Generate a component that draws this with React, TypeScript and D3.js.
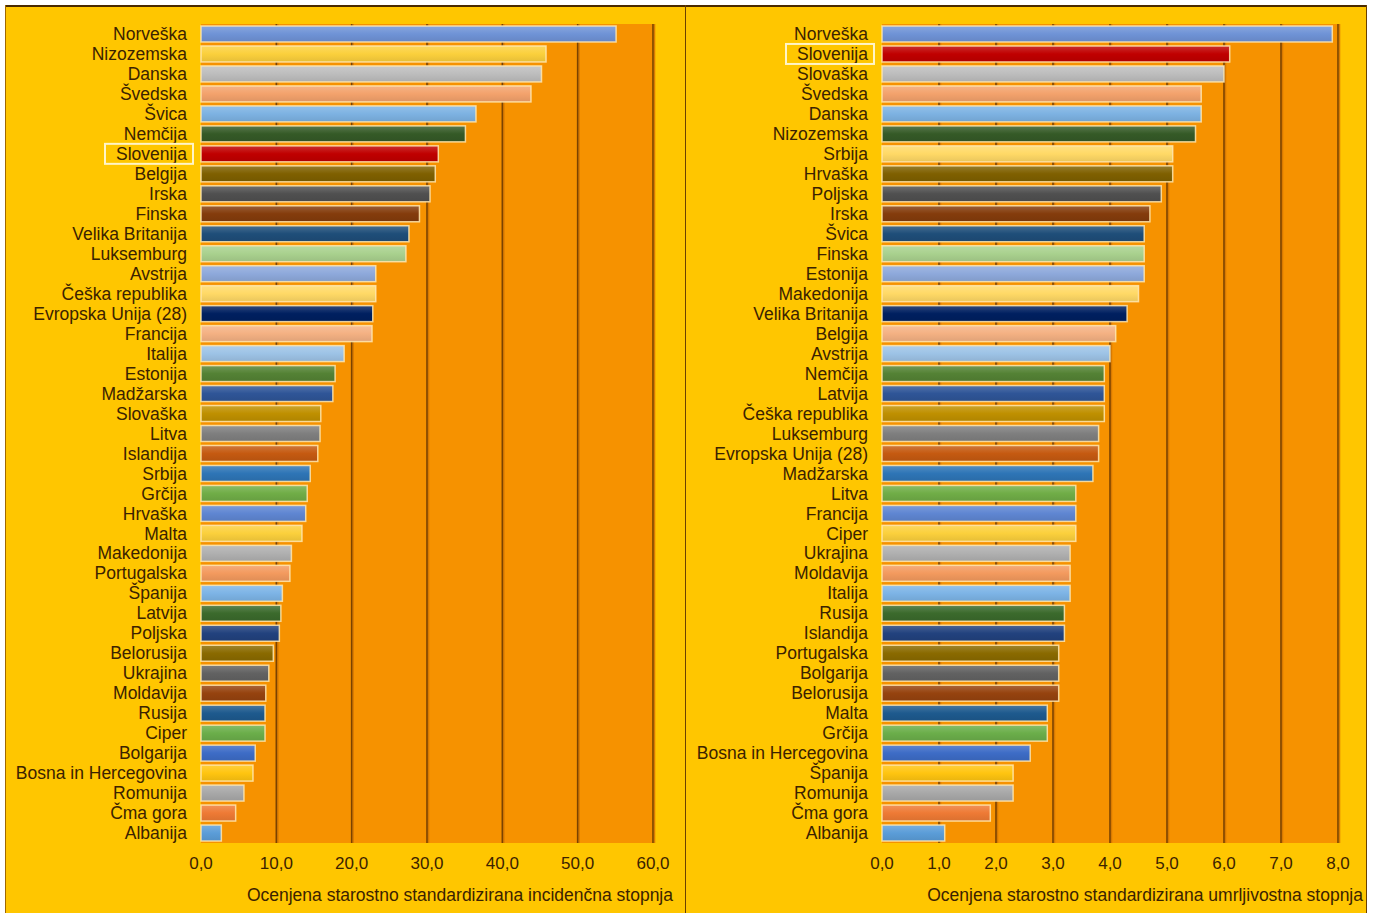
import React from "react";
import * as d3 from "d3";

// incidenca (levo)
const incCountries = [
  "Norveška", "Nizozemska", "Danska", "Švedska", "Švica", "Nemčija", "Slovenija",
  "Belgija", "Irska", "Finska", "Velika Britanija", "Luksemburg", "Avstrija",
  "Češka republika", "Evropska Unija (28)", "Francija", "Italija", "Estonija",
  "Madžarska", "Slovaška", "Litva", "Islandija", "Srbija", "Grčija", "Hrvaška",
  "Malta", "Makedonija", "Portugalska", "Španija", "Latvija", "Poljska",
  "Belorusija", "Ukrajina", "Moldavija", "Rusija", "Ciper", "Bolgarija",
  "Bosna in Hercegovina", "Romunija", "Čma gora", "Albanija",
];
const incValues = [
  55.1, 45.8, 45.2, 43.8, 36.5, 35.1, 31.5, 31.1, 30.4, 29.0, 27.6, 27.2, 23.2,
  23.2, 22.8, 22.7, 19.0, 17.8, 17.5, 15.9, 15.8, 15.5, 14.5, 14.1, 13.9, 13.4,
  12.0, 11.8, 10.8, 10.6, 10.4, 9.6, 9.0, 8.6, 8.5, 8.5, 7.2, 6.9, 5.7, 4.6, 2.7,
];
const incTicks = [0, 10, 20, 30, 40, 50, 60];

// umrljivost (desno)
const mortCountries = [
  "Norveška", "Slovenija", "Slovaška", "Švedska", "Danska", "Nizozemska", "Srbija",
  "Hrvaška", "Poljska", "Irska", "Švica", "Finska", "Estonija", "Makedonija",
  "Velika Britanija", "Belgija", "Avstrija", "Nemčija", "Latvija",
  "Češka republika", "Luksemburg", "Evropska Unija (28)", "Madžarska", "Litva",
  "Francija", "Ciper", "Ukrajina", "Moldavija", "Italija", "Rusija", "Islandija",
  "Portugalska", "Bolgarija", "Belorusija", "Malta", "Grčija",
  "Bosna in Hercegovina", "Španija", "Romunija", "Čma gora", "Albanija",
];
const mortValues = [
  7.9, 6.1, 6.0, 5.6, 5.6, 5.5, 5.1, 5.1, 4.9, 4.7, 4.6, 4.6, 4.6, 4.5, 4.3, 4.1,
  4.0, 3.9, 3.9, 3.9, 3.8, 3.8, 3.7, 3.4, 3.4, 3.4, 3.3, 3.3, 3.3, 3.2, 3.2, 3.1,
  3.1, 3.1, 2.9, 2.9, 2.6, 2.3, 2.3, 1.9, 1.1,
];
const mortTicks = [0, 1, 2, 3, 4, 5, 6, 7, 8];

// barve po položaju stolpca
const palette = [
  "#6f93d6", "#fbd03c", "#bdbdbd", "#f3a26c", "#7db2e2", "#355a27", "#ffd966",
  "#7f6000", "#505050", "#843c0c", "#1f4e79", "#a9d18e", "#8ea9db", "#ffd966",
  "#002060", "#f4b183", "#9dc3e6", "#548235", "#2f5597", "#bf9000", "#7f7f7f",
  "#c55a11", "#2e75b6", "#70ad47", "#5f86d2", "#fbd03c", "#b0b0b0", "#f39a5e",
  "#7db4e6", "#3b6a2c", "#22427e", "#8a6a00", "#626262", "#96430f", "#1e5a8e",
  "#6bae4a", "#3d6cc6", "#ffc510", "#a8a8a8", "#ee7a35", "#5b9dd8",
];
const highlight = "Slovenija";
const highlightColor = "#c00000";

const FONT = "'Liberation Sans', Arial, sans-serif";
const TEXT = "#3b2200";
const PANEL_BG = "#ffc600";
const PLOT_BG = "#f69200";
const GRID = "#7a4200";

const top = 24;
const bottom = 843;

const fmt = (v) => d3.format(".1f")(v).replace(".", ",");

const Panel = ({ id, x0, x1, plotLeft, plotRight, countries, values, ticks, title, titleRight }) => {
  const x = d3.scaleLinear().domain([ticks[0], ticks[ticks.length - 1]]).range([plotLeft, plotRight]);
  const y = d3.scaleBand().domain(countries).range([top, bottom]).paddingInner(0.2).paddingOuter(0.1);
  const labelX = plotLeft - 14;

  return (
    <g>
      <rect x={x0} y={5} width={x1 - x0} height={908} fill={PANEL_BG} />
      <rect x={plotLeft} y={top} width={plotRight - plotLeft} height={bottom - top} fill={PLOT_BG} />
      {ticks.slice(1).map((t) => (
        <g key={t}>
          <line x1={x(t) + 1.5} x2={x(t) + 1.5} y1={top} y2={bottom} stroke="#d97a00" strokeWidth={1.5} />
          <line x1={x(t)} x2={x(t)} y1={top} y2={bottom} stroke={GRID} strokeWidth={1.6} />
        </g>
      ))}
      <defs>
        {countries.map((c, i) => {
          const col = c === highlight ? highlightColor : palette[i % palette.length];
          const light = d3.interpolateRgb(col, "#ffffff")(0.18);
          const dark = d3.color(col).darker(0.25).formatHex();
          return (
            <linearGradient key={c} id={`${id}-g${i}`} x1="0" y1="0" x2="0" y2="1">
              <stop offset="0%" stopColor={light} />
              <stop offset="50%" stopColor={col} />
              <stop offset="100%" stopColor={dark} />
            </linearGradient>
          );
        })}
      </defs>
      {countries.map((c, i) => (
        <rect
          key={c}
          x={x(0)}
          y={y(c)}
          width={x(values[i]) - x(0)}
          height={y.bandwidth()}
          fill={`url(#${id}-g${i})`}
          stroke="#ffe7b0"
          strokeOpacity={0.85}
          strokeWidth={1.5}
        />
      ))}
      {countries.map((c) => (
        <text
          key={c}
          x={labelX}
          y={y(c) + y.bandwidth() / 2}
          dy="0.35em"
          textAnchor="end"
          fontFamily={FONT}
          fontSize={17.5}
          fill={TEXT}
        >
          {c}
        </text>
      ))}
      {countries.includes(highlight) && (
        <rect
          x={labelX - 82}
          y={y(highlight) + y.bandwidth() / 2 - 10}
          width={88}
          height={20}
          fill="none"
          stroke="#fff4c8"
          strokeWidth={2}
        />
      )}
      {ticks.map((t) => (
        <text key={t} x={x(t)} y={869} textAnchor="middle" fontFamily={FONT} fontSize={17} fill={TEXT}>
          {fmt(t)}
        </text>
      ))}
      <text x={titleRight} y={901} textAnchor="end" fontFamily={FONT} fontSize={17.5} fill={TEXT}>
        {title}
      </text>
    </g>
  );
};

export default function App() {
  return (
    <div style={{ position: "absolute", left: 0, top: 0 }}>
      <svg width={1373} height={915} style={{ display: "block", background: "#ffffff" }}>
        <Panel
          id="inc"
          x0={5}
          x1={685}
          plotLeft={201}
          plotRight={653}
          countries={incCountries}
          values={incValues}
          ticks={incTicks}
          title="Ocenjena starostno standardizirana incidenčna stopnja"
          titleRight={673}
        />
        <Panel
          id="mort"
          x0={686}
          x1={1367}
          plotLeft={882}
          plotRight={1338}
          countries={mortCountries}
          values={mortValues}
          ticks={mortTicks}
          title="Ocenjena starostno standardizirana umrljivostna stopnja"
          titleRight={1363}
        />
        <line x1={5} x2={1367} y1={6} y2={6} stroke="#4a2a00" strokeWidth={2} />
        <line x1={5.5} x2={5.5} y1={5} y2={913} stroke="#a06800" strokeWidth={1} />
        <line x1={685.5} x2={685.5} y1={5} y2={913} stroke="#6a4000" strokeWidth={1} />
        <line x1={1366.5} x2={1366.5} y1={5} y2={913} stroke="#6a4000" strokeWidth={1} />
      </svg>
    </div>
  );
}
